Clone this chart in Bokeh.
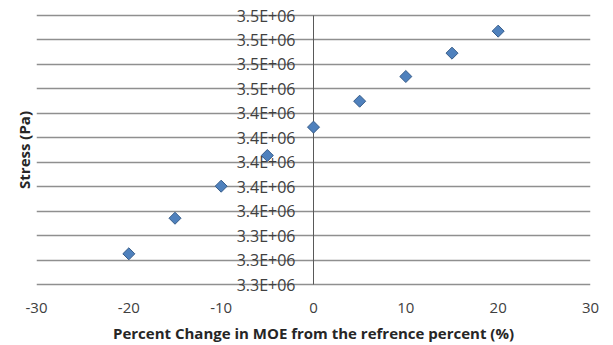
import numpy as np
from bokeh.plotting import figure
from bokeh.models import FixedTicker, ColumnDataSource, Range1d
from bokeh.core.properties import value
from bokeh.embed import file_html
from bokeh.resources import INLINE

# Data
pct_change = [-20, -15, -10, -5, 0, 5, 10, 15, 20]
stress_pa = [3.3251e6, 3.3542e6, 3.3804e6, 3.4055e6, 3.4287e6,
             3.4499e6, 3.4701e6, 3.4892e6, 3.5072e6]

x_ticks = [-30, -20, -10, 0, 10, 20, 30]
x_tick_labels = ["-30", "-20", "-10", "0", "10", "20", "30"]
y_ticks = [3.30e6, 3.32e6, 3.34e6, 3.36e6, 3.38e6, 3.40e6,
           3.42e6, 3.44e6, 3.46e6, 3.48e6, 3.50e6, 3.52e6]
y_tick_labels = ["3.3E+06", "3.3E+06", "3.3E+06", "3.4E+06", "3.4E+06", "3.4E+06",
                 "3.4E+06", "3.4E+06", "3.5E+06", "3.5E+06", "3.5E+06", "3.5E+06"]

FONT = "Open Sans"
y_lo, y_hi = y_ticks[0], y_ticks[-1]
pad = (y_hi - y_lo) * 12 / 269  # room for the edge labels inside the frame

p = figure(output_backend="svg", toolbar_location=None,
           frame_width=554, frame_height=293,
           x_range=Range1d(-30, 30), y_range=Range1d(y_lo - pad, y_hi + pad),
           min_border_left=36, min_border_right=23, min_border_top=3,
           min_border_bottom=49)
p.outline_line_color = None
p.background_fill_color = "white"
p.border_fill_color = "white"

# grid
p.xgrid.visible = False
p.ygrid.ticker = FixedTicker(ticks=y_ticks)
p.ygrid.grid_line_color = "#8f8f8f"
p.ygrid.grid_line_width = 1.5

# x axis (bottom)
xa = p.xaxis[0]
xa.ticker = FixedTicker(ticks=x_ticks)
xa.major_label_overrides = {t: l for t, l in zip(x_ticks, x_tick_labels)}
xa.axis_line_color = None
xa.major_tick_line_color = None
xa.minor_tick_line_color = None
xa.major_label_standoff = 0
xa.major_label_text_font = FONT
xa.major_label_text_font_size = "15px"
xa.major_label_text_color = "#404040"
xa.axis_label = "Percent Change in MOE from the refrence percent (%)"
xa.axis_label_text_font = FONT
xa.axis_label_text_font_size = "15px"
xa.axis_label_text_font_style = "bold"
xa.axis_label_text_color = "#262626"
xa.axis_label_standoff = 7

# y axis (left) only carries the title
ya = p.yaxis[0]
ya.ticker = FixedTicker(ticks=[])
ya.axis_line_color = None
ya.major_tick_line_color = None
ya.minor_tick_line_color = None
ya.major_label_text_font_size = "0px"
ya.major_label_standoff = 0
ya.axis_label = "Stress (Pa)"
ya.axis_label_text_font = FONT
ya.axis_label_text_font_size = "15px"
ya.axis_label_text_font_style = "bold"
ya.axis_label_text_color = "#262626"
ya.axis_label_standoff = 3

# vertical axis line crossing at x = 0, spanning the tick range
p.segment(x0=[0], y0=[y_lo], x1=[0], y1=[y_hi], line_color="#595959", line_width=1)

# y tick labels drawn beside the crossing axis
lab_src = ColumnDataSource(dict(x=[0] * len(y_ticks), y=y_ticks, t=y_tick_labels))
p.text(x="x", y="y", text="t", source=lab_src, x_offset=-18,
       text_align="right", text_baseline="middle",
       text_font=value(FONT), text_font_size="16px", text_color="#404040")

# data points
p.scatter(pct_change, stress_pa, marker="square", angle=np.pi / 4, size=8.5,
          fill_color="#4F81BD", line_color="#385D8A", line_width=1)

open("out.html", "w").write(file_html(p, INLINE))
